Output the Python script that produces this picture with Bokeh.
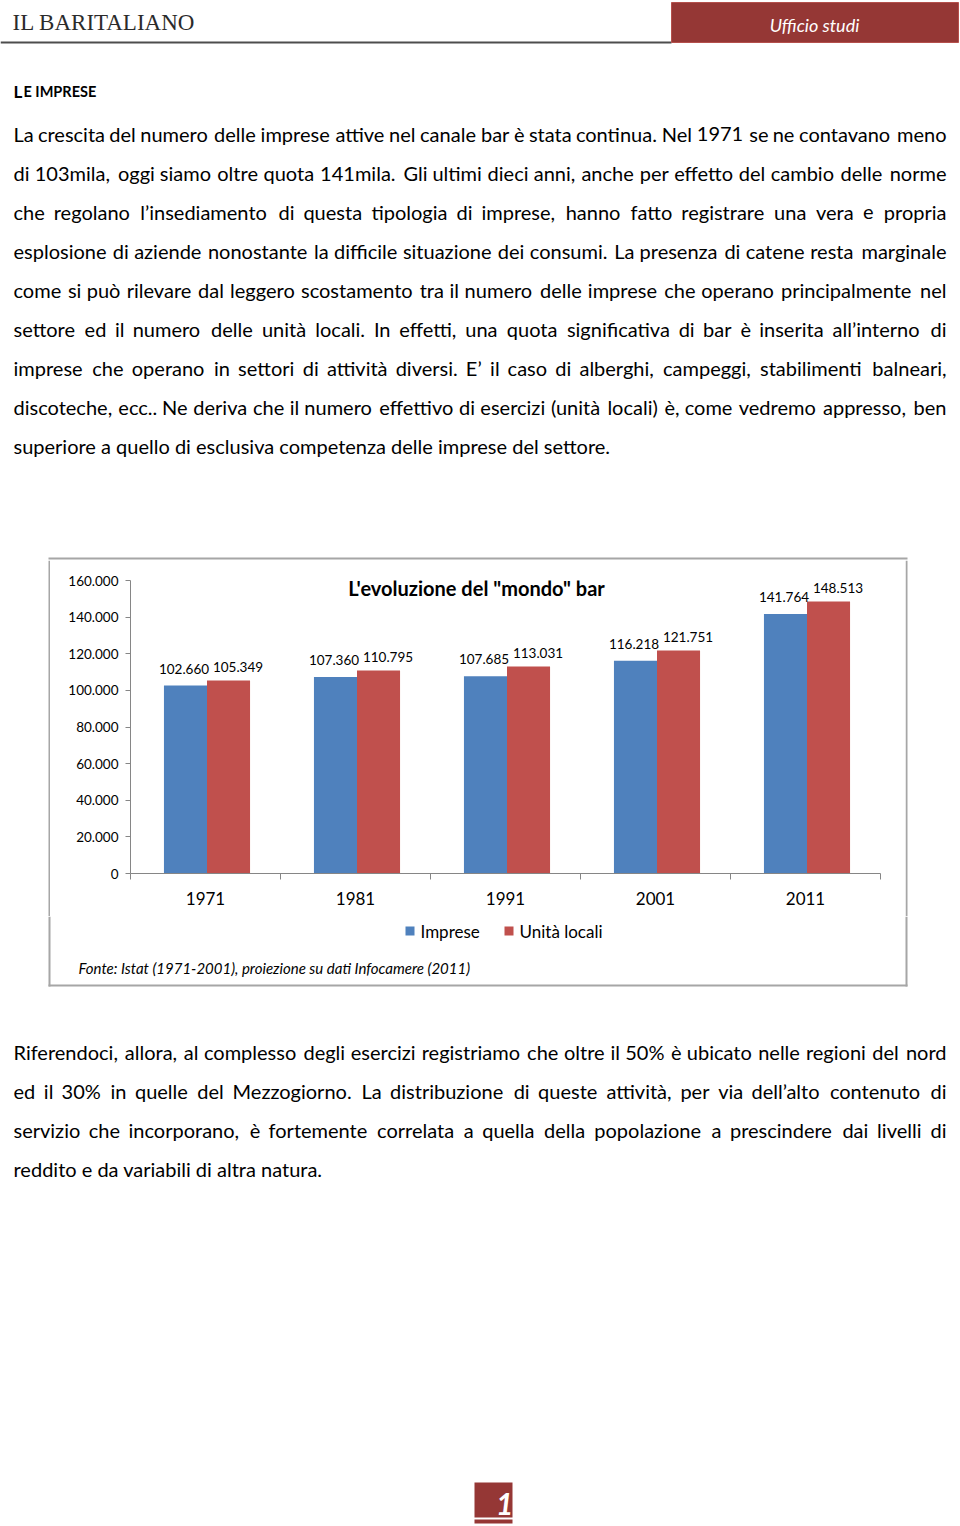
from bokeh.plotting import figure
from bokeh.layouts import column, row
from bokeh.models import (Label, LabelSet, Range1d, FixedTicker, ColumnDataSource)
from bokeh.transform import dodge
from bokeh.core.properties import value
from bokeh.embed import file_html
from bokeh.resources import INLINE

# ---------------- data ----------------
years = ["1971", "1981", "1991", "2001", "2011"]
imprese = [102660, 107360, 107685, 116218, 141764]
unita_locali = [105349, 110795, 113031, 121751, 148513]
imprese_labels = ["102.660", "107.360", "107.685", "116.218", "141.764"]
unita_labels = ["105.349", "110.795", "113.031", "121.751", "148.513"]
y_ticks = [0, 20000, 40000, 60000, 80000, 100000, 120000, 140000, 160000]
y_tick_labels = ["0", "20.000", "40.000", "60.000", "80.000", "100.000",
                 "120.000", "140.000", "160.000"]
series_names = ["Imprese", "Unità locali"]
chart_title = "L'evoluzione del \"mondo\" bar"
source_note = "Fonte: Istat (1971-2001), proiezione su dati Infocamere (2011)"

para1 = [
    "La crescita del numero delle imprese attive nel canale bar è stata continua. Nel 1971 se ne contavano meno",
    "di 103mila, oggi siamo oltre quota 141mila. Gli ultimi dieci anni, anche per effetto del cambio delle norme",
    "che regolano l’insediamento di questa tipologia di imprese, hanno fatto registrare una vera e propria",
    "esplosione di aziende nonostante la difficile situazione dei consumi. La presenza di catene resta marginale",
    "come si può rilevare dal leggero scostamento tra il numero delle imprese che operano principalmente nel",
    "settore ed il numero delle unità locali. In effetti, una quota significativa di bar è inserita all’interno di",
    "imprese che operano in settori di attività diversi. E’ il caso di alberghi, campeggi, stabilimenti balneari,",
    "discoteche, ecc.. Ne deriva che il numero effettivo di esercizi (unità locali) è, come vedremo appresso, ben",
    "superiore a quello di esclusiva competenza delle imprese del settore.",
]
para2 = [
    "Riferendoci, allora, al complesso degli esercizi registriamo che oltre il 50% è ubicato nelle regioni del nord",
    "ed il 30% in quelle del Mezzogiorno. La distribuzione di queste attività, per via dell’alto contenuto di",
    "servizio che incorporano, è fortemente correlata a quella della popolazione a prescindere dai livelli di",
    "reddito e da variabili di altra natura.",
]
# natural (unjustified) width of each line at the body size, px (None = last line)
para1_natural = [928, 918, 868, 920, 911, 865, 874, 917, None]
para2_natural = [916, 869, 876, None]

BLUE = "#4F81BD"
RED = "#C0504D"
DARKRED = "#953735"
AXIS = "#868686"
BOXLINE = "#A6A6A6"
FONT = "Lato"
BODY_PX = 20
BODY = f"{BODY_PX}px"

# approximate advance widths (em) used to spread words for justified text
CW = dict(zip("abcdefghijklmnopqrstuvwxyz",
              [.49, .55, .45, .55, .51, .31, .49, .55, .23, .23, .48, .23, .83,
               .55, .55, .55, .55, .35, .41, .33, .55, .48, .74, .47, .48, .44]))
CW.update(dict(zip("ABCDEFGHIJKLMNOPQRSTUVWXYZ",
                   [.64, .61, .64, .70, .56, .51, .69, .72, .27, .37, .62, .48, .86,
                    .74, .76, .57, .76, .59, .51, .56, .69, .63, .95, .61, .58, .58])))
CW.update({d: .58 for d in "0123456789"})
CW.update({"è": .51, "é": .51, "à": .49, "ù": .55, "ò": .55, "ì": .23,
           ".": .22, ",": .22, "’": .22, "'": .2, "(": .3, ")": .3, "%": .78,
           "-": .33, ":": .22, '"': .35, " ": .19})

# page geometry (px from page top-left)
PW = 960
TOP_END = 560
MID_END = 916
PH = 1524
BOX_L, BOX_R, BOX_T, BOX_B = 48, 907, 557, 986
CH_L, CH_R = 50, 905
FL, FR, FT, FB = 130, 880, 580, 873
TX0, TX1 = 13, 946


def page_fig(x0, x1, y0, y1):
    f = figure(width=x1 - x0, height=y1 - y0, x_range=Range1d(x0, x1),
               y_range=Range1d(y1, y0), output_backend="svg", toolbar_location=None,
               min_border=0, x_axis_type=None, y_axis_type=None,
               background_fill_color="white", border_fill_color="white")
    f.outline_line_color = None
    f.frame_align = False
    return f


def txt(f, x, y, text, size, color="black", style="normal", align="left",
        baseline="middle", font=FONT):
    f.text(x=[x], y=[y], text=[text], text_font=value(font), text_font_size=value(size),
           text_font_style=style, text_color=color, text_align=align,
           text_baseline=baseline)


def rect(f, l, t, r, b, fill, line=None):
    f.quad(left=[l], right=[r], top=[t], bottom=[b], fill_color=fill,
           line_color=line)


def para_line(f, line, y, natural):
    if natural is None:
        txt(f, TX0, y, line, BODY)
        return
    words = line.split(" ")
    est = [sum(CW.get(c, .5) for c in w) for w in words]
    total = sum(est) + CW[" "] * (len(words) - 1)
    k = natural / (total * BODY_PX)
    wpx = [e * BODY_PX * k for e in est]
    gap = (TX1 - TX0 - sum(wpx)) / (len(words) - 1)
    xs, x = [], TX0
    for w in wpx:
        xs.append(x)
        x += w + gap
    f.text(x=xs[:-1], y=[y] * (len(words) - 1), text=words[:-1],
           text_font=value(FONT), text_font_size=value(BODY), text_color="black",
           text_align="left", text_baseline="middle")
    f.text(x=[TX1], y=[y], text=[words[-1]], text_font=value(FONT),
           text_font_size=value(BODY), text_color="black", text_align="right",
           text_baseline="middle")


# ---------------- top strip: header + paragraph 1 ----------------
top = page_fig(0, PW, 0, TOP_END)
txt(top, 12, 22, "IL BARITALIANO", "23px", color="#2b2b2b", font="Liberation Serif")
rect(top, 0, 41, 671, 43, "#4d4d4d")
rect(top, 671, 2, 958, 42, DARKRED, line="#B5504C")
txt(top, 814, 24, "Ufficio studi", "18px", color="white", style="italic", align="center")
txt(top, 13, 91, "L", "17px", style="bold", baseline="alphabetic")
txt(top, 23, 91, "E IMPRESE", "14.5px", style="bold", baseline="alphabetic")
for i, line in enumerate(para1):
    para_line(top, line, 133 + 39 * i, para1_natural[i])
rect(top, BOX_L, BOX_T, BOX_R, BOX_T + 2, BOXLINE)

# ---------------- middle strip: chart ----------------
left = page_fig(0, CH_L, TOP_END, MID_END)
rect(left, BOX_L, TOP_END, BOX_L + 2, MID_END, BOXLINE)
right = page_fig(CH_R, PW, TOP_END, MID_END)
rect(right, BOX_R - 2, TOP_END, BOX_R, MID_END, BOXLINE)

n = len(years)
p = figure(width=CH_R - CH_L, height=MID_END - TOP_END, output_backend="svg",
           toolbar_location=None,
           x_range=Range1d(0, n), y_range=Range1d(0, y_ticks[-1]),
           min_border_left=FL - CH_L, min_border_right=CH_R - FR,
           min_border_top=FT - TOP_END, min_border_bottom=MID_END - FB,
           background_fill_color="white", border_fill_color="white")
p.frame_align = False
p.xgrid.visible = False
p.ygrid.visible = False
p.outline_line_color = None

ya = p.yaxis[0]
ya.ticker = FixedTicker(ticks=y_ticks)
ya.major_label_overrides = {t: l for t, l in zip(y_ticks, y_tick_labels)}
ya.axis_line_color = AXIS
ya.major_tick_line_color = AXIS
ya.minor_tick_line_color = None
ya.major_tick_in = 0
ya.major_tick_out = 5
ya.major_label_standoff = 7
ya.major_label_text_font = FONT
ya.major_label_text_font_size = "13.5px"
ya.major_label_text_color = "black"

centres = [i + 0.5 for i in range(n)]
xa = p.xaxis[0]
xa.ticker = FixedTicker(ticks=centres, minor_ticks=list(range(n + 1)))
xa.major_label_overrides = {c: y for c, y in zip(centres, years)}
xa.axis_line_color = AXIS
xa.major_tick_line_color = None
xa.major_tick_in = 0
xa.major_tick_out = 0
xa.minor_tick_line_color = AXIS
xa.minor_tick_in = 0
xa.minor_tick_out = 6
xa.major_label_standoff = 12
xa.major_label_text_font = FONT
xa.major_label_text_font_size = "17px"
xa.major_label_text_color = "black"

src = ColumnDataSource(dict(x=centres, imprese=imprese, unita=unita_locali,
                            il=imprese_labels, ul=unita_labels))
BW = 0.287
p.vbar(x=dodge("x", -BW / 2 + 0.01, range=p.x_range), top="imprese", width=BW,
       source=src, fill_color=BLUE, line_color=None)
p.vbar(x=dodge("x", BW / 2 + 0.01, range=p.x_range), top="unita", width=BW,
       source=src, fill_color=RED, line_color=None)
p.add_layout(LabelSet(x=dodge("x", -BW / 2, range=p.x_range), y="imprese", text="il",
                      source=src, text_align="center", text_baseline="middle",
                      y_offset=17, text_font=value(FONT), text_font_size="13.5px",
                      text_color="black"))
p.add_layout(LabelSet(x=dodge("x", BW / 2, range=p.x_range), y="unita", text="ul",
                      source=src, text_align="center", text_baseline="middle",
                      x_offset=11, y_offset=14, text_font=value(FONT),
                      text_font_size="13.5px", text_color="black"))
p.add_layout(Label(x=476 - CH_L, y=587 - TOP_END, x_units="canvas", y_units="canvas",
                   text=chart_title, text_font=FONT, text_font_size="20px",
                   text_font_style="bold", text_align="center", text_baseline="middle",
                   text_color="black"))

# ---------------- bottom strip: legend, note, paragraph 2, page no. ----------------
bot = page_fig(0, PW, MID_END, PH)
rect(bot, BOX_L, MID_END, BOX_L + 2, BOX_B, BOXLINE)
rect(bot, BOX_R - 2, MID_END, BOX_R, BOX_B, BOXLINE)
rect(bot, BOX_L, BOX_B - 2, BOX_R, BOX_B, BOXLINE)
rect(bot, 405, 926, 414, 935, BLUE)
txt(bot, 420, 931, series_names[0], "17px")
rect(bot, 504, 926, 513, 935, RED)
txt(bot, 519, 931, series_names[1], "17px")
txt(bot, 78, 967, source_note, "15px", style="italic")
for i, line in enumerate(para2):
    para_line(bot, line, 1051 + 39 * i, para2_natural[i])
rect(bot, 474, 1482, 512, 1517, DARKRED)
rect(bot, 474, 1519, 512, 1523, DARKRED)
txt(bot, 513, 1503, "1", "30px", color="white", style="bold italic", align="right")

layout = column(top, row(left, p, right), bot)
open("out.html", "w").write(file_html(layout, INLINE))
